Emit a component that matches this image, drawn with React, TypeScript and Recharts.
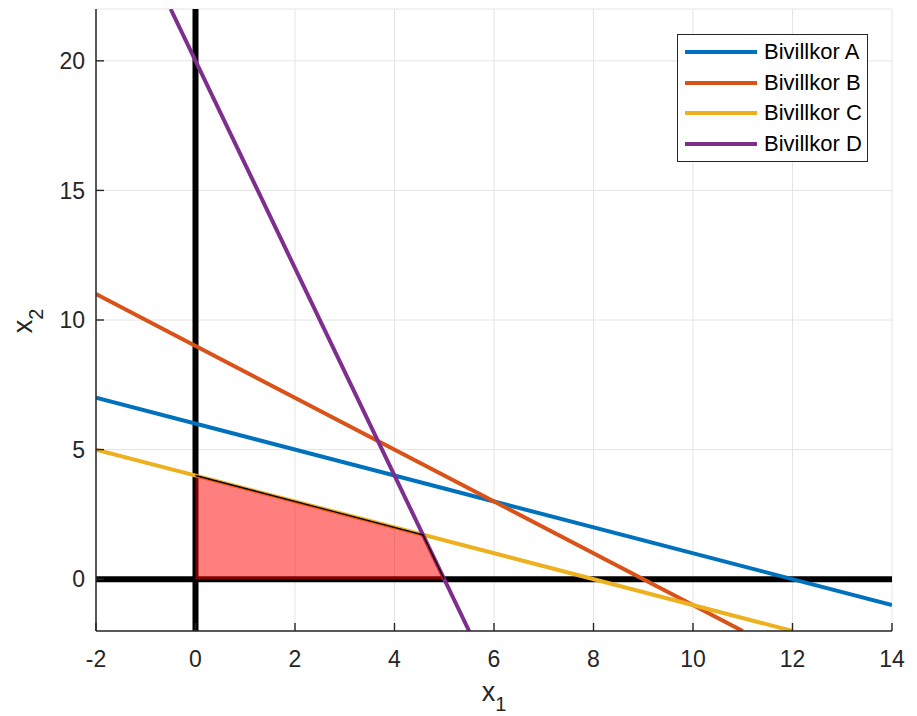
import { ComposedChart, Line, Area, XAxis, YAxis, CartesianGrid, Label } from 'recharts'

const X_TICKS = [-2, 0, 2, 4, 6, 8, 10, 12, 14]
const Y_TICKS = [0, 5, 10, 15, 20]

type Pt = { x: number; y: number }

// end points of each constraint line
const lineA: Pt[] = [{ x: -2, y: 7 }, { x: 14, y: -1 }]
const lineB: Pt[] = [{ x: -2, y: 11 }, { x: 11, y: -2 }]
const lineC: Pt[] = [{ x: -2, y: 5 }, { x: 12, y: -2 }]
const lineD: Pt[] = [{ x: -0.5, y: 22 }, { x: 5.5, y: -2 }]

// coordinate axes drawn as thick black lines
const axisX0: Pt[] = [{ x: 0, y: -2 }, { x: 0, y: 22 }]
const axisY0: Pt[] = [{ x: -2, y: 0 }, { x: 14, y: 0 }]

// feasible region (upper edge), filled down to y = 0
const feasible: Pt[] = [{ x: 0, y: 4 }, { x: 4.571, y: 1.714 }, { x: 5, y: 0 }]

const SERIES = [
  { name: 'Bivillkor A', color: '#0072BD', data: lineA },
  { name: 'Bivillkor B', color: '#D95319', data: lineB },
  { name: 'Bivillkor C', color: '#EDB120', data: lineC },
  { name: 'Bivillkor D', color: '#7E2F8E', data: lineD },
]

const FONT = '"Liberation Sans", Arial, Helvetica, sans-serif'
const INK = '#262626'
const TICK_FS = 23

function XTick({ x, y, payload }: any) {
  const axisY = y - 20
  return (
    <g>
      <line x1={x} x2={x} y1={axisY} y2={axisY - 8} stroke={INK} strokeWidth={1.4} />
      <text x={x} y={y} dy="0.71em" textAnchor="middle" fill={INK} fontSize={TICK_FS} fontFamily={FONT}>
        {payload.value}
      </text>
    </g>
  )
}

function YTick({ x, y, payload }: any) {
  const axisX = x + 11
  return (
    <g>
      <line x1={axisX} x2={axisX + 8} y1={y} y2={y} stroke={INK} strokeWidth={1.4} />
      <text x={x} y={y} dy="0.36em" textAnchor="end" fill={INK} fontSize={TICK_FS} fontFamily={FONT}>
        {payload.value}
      </text>
    </g>
  )
}

function LegendBox() {
  return (
    <div
      style={{
        position: 'absolute',
        left: 677,
        top: 34,
        width: 189,
        height: 126,
        border: `1px solid ${INK}`,
        background: '#fff',
        fontFamily: FONT,
        fontSize: 22,
        color: '#000',
      }}
    >
      {SERIES.map((s, i) => (
        <div key={s.name} style={{ position: 'absolute', left: 0, top: 17 + i * 30.7, height: 0 }}>
          <div style={{ position: 'absolute', left: 7, top: -2, width: 72, height: 4, background: s.color }} />
          <div style={{ position: 'absolute', left: 86, top: -13, whiteSpace: 'nowrap', lineHeight: '26px' }}>{s.name}</div>
        </div>
      ))}
    </div>
  )
}

export default function App() {
  return (
    <div style={{ position: 'absolute', left: 0, top: 0, width: 917, height: 716, background: '#fff' }}>
      <ComposedChart width={917} height={716} margin={{ top: 9, right: 25, bottom: 0, left: 0 }}>
        <CartesianGrid stroke="#e4e4e4" strokeWidth={1} />
        <XAxis
          type="number"
          dataKey="x"
          domain={[-2, 14]}
          ticks={X_TICKS}
          allowDataOverflow
          height={85}
          tickSize={0}
          tickMargin={20}
          tickLine={false}
          tick={<XTick />}
          axisLine={{ stroke: INK, strokeWidth: 1.5 }}
          interval={0}
        >
          <Label
            content={({ viewBox }: any) => (
              <text
                x={viewBox.x + viewBox.width / 2}
                y={viewBox.y + 70}
                textAnchor="middle"
                fill={INK}
                fontSize={27}
                fontFamily={FONT}
              >
                x<tspan fontSize={20} dy={10}>1</tspan>
              </text>
            )}
          />
        </XAxis>
        <YAxis
          type="number"
          dataKey="y"
          domain={[-2, 22]}
          ticks={Y_TICKS}
          allowDataOverflow
          width={96}
          tickSize={0}
          tickMargin={11}
          tickLine={false}
          tick={<YTick />}
          axisLine={{ stroke: INK, strokeWidth: 1.5 }}
          interval={0}
        >
          <Label
            content={() => (
              <text
                x={32}
                y={321}
                transform="rotate(-90, 32, 321)"
                textAnchor="middle"
                fill={INK}
                fontSize={27}
                fontFamily={FONT}
              >
                x<tspan fontSize={20} dy={11}>2</tspan>
              </text>
            )}
          />
        </YAxis>

        <Line data={axisX0} dataKey="y" stroke="#000" strokeWidth={6} dot={false} legendType="none" isAnimationActive={false} />
        <Line data={axisY0} dataKey="y" stroke="#000" strokeWidth={6} dot={false} legendType="none" isAnimationActive={false} />

        {SERIES.map((s) => (
          <Line
            key={s.name}
            name={s.name}
            data={s.data}
            dataKey="y"
            stroke={s.color}
            strokeWidth={4}
            dot={false}
            activeDot={false}
            isAnimationActive={false}
          />
        ))}

        <Area
          data={feasible}
          dataKey="y"
          type="linear"
          baseValue={0}
          fill="#ff0000"
          fillOpacity={0.5}
          stroke="#000"
          strokeWidth={1.3}
          legendType="none"
          zIndex={450}
          isAnimationActive={false}
        />
      </ComposedChart>
      <LegendBox />
    </div>
  )
}
